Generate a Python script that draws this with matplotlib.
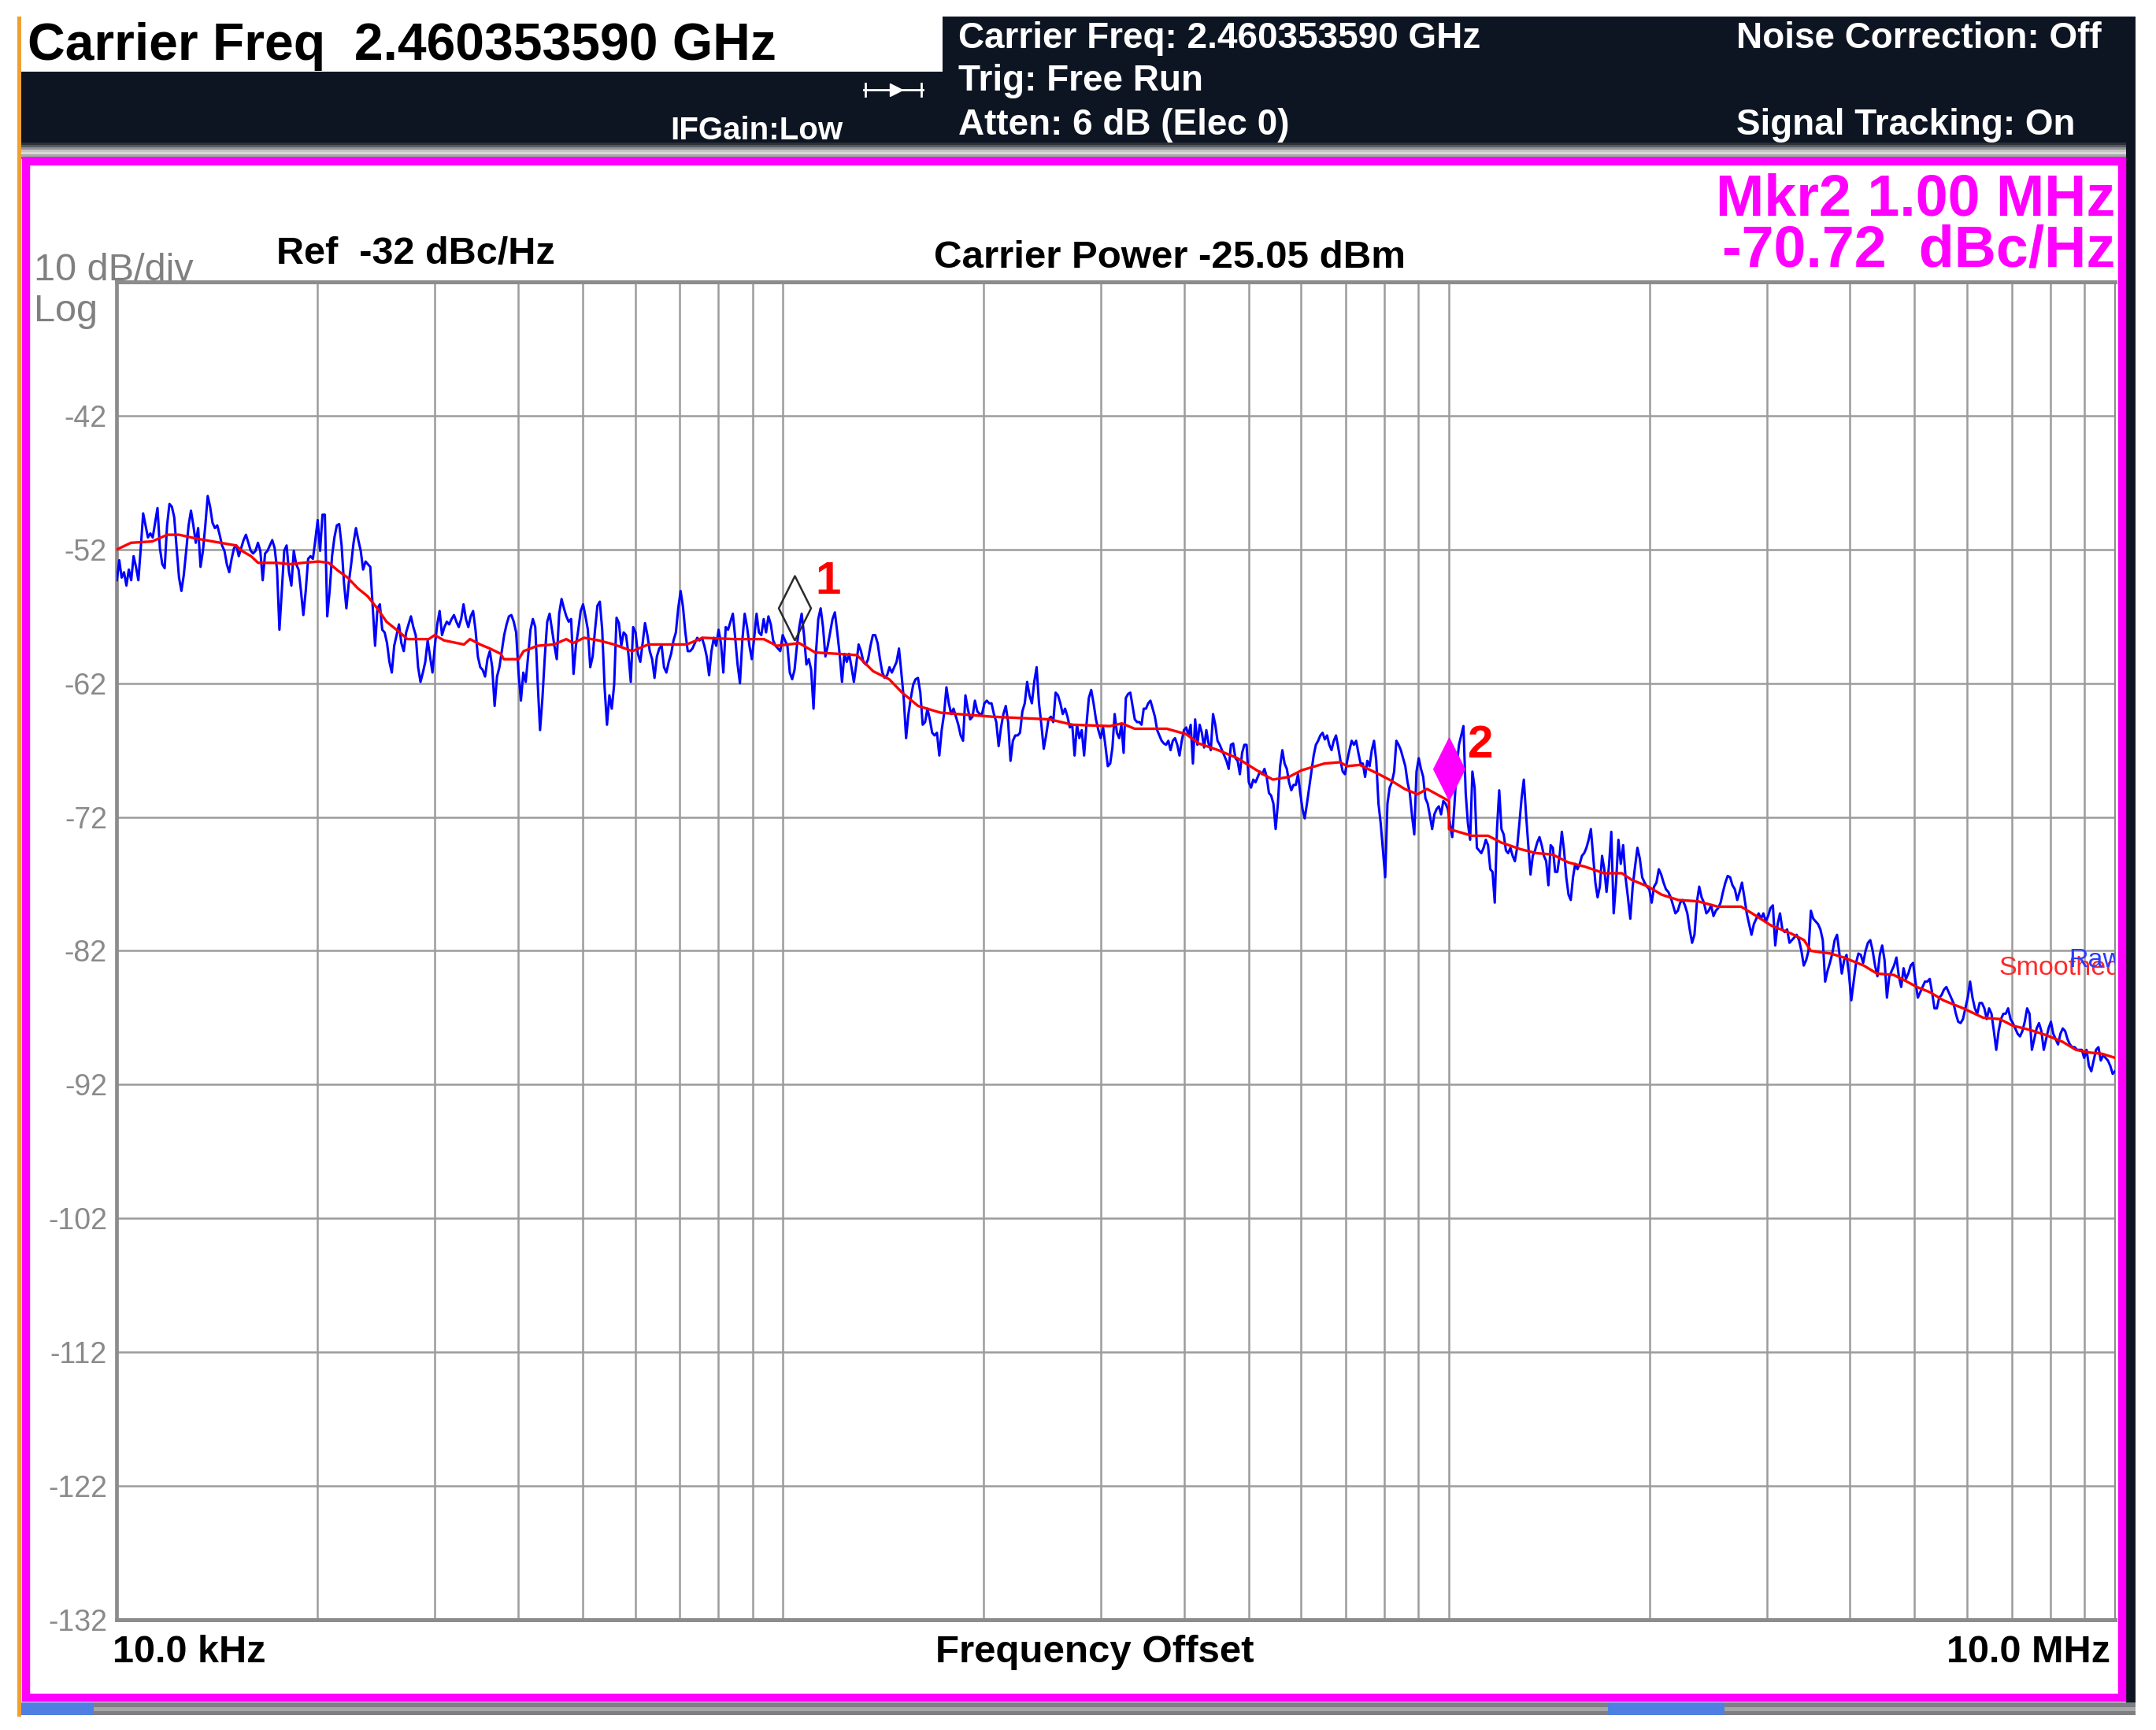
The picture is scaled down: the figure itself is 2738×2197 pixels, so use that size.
import matplotlib
matplotlib.use("Agg")
import matplotlib.pyplot as plt
import numpy as np
from matplotlib import font_manager
from matplotlib.patches import Rectangle
from matplotlib.lines import Line2D
from matplotlib.ticker import LogLocator, NullFormatter, FixedLocator

W, H = 2738, 2197

# ---- values ----
ref_db = -32
ytick_db = [-42, -52, -62, -72, -82, -92, -102, -112, -122, -132]
span_hz = [1e4, 1e7]

# raw trace in four pieces, each piece evenly spread in log frequency
raw_edges_khz = [10.0, 55.8, 310.0, 1724.0, 10000.0]
raw_1 = [
    -54.3, -52.8, -54.1, -53.7, -54.7, -53.5, -54.3, -52.5, -53.3, -54.3,
    -51.9, -49.3, -50.2, -51.1, -50.8, -51.1, -50.0, -48.9, -51.9, -53.1,
    -53.4, -50.2, -48.6, -48.8, -49.6, -51.9, -54.1, -55.1, -53.9, -52.1,
    -50.2, -49.1, -50.2, -51.5, -50.4, -53.3, -52.1, -50.2, -48.0, -48.8,
    -50.0, -50.4, -50.2, -50.9, -51.7, -52.1, -53.1, -53.7, -52.7, -51.9,
    -51.7, -52.5, -51.9, -51.3, -50.9, -51.5, -52.1, -52.3, -52.1, -51.5,
    -52.1, -54.3, -52.3, -52.1, -51.7, -51.3, -51.9, -53.5, -58.0, -55.1,
    -52.1, -51.7, -53.7, -54.7, -52.1, -53.1, -53.5, -55.1, -56.9, -55.1,
    -52.7, -52.5, -52.7, -51.3, -49.8, -52.1, -49.4, -49.4, -57.0, -55.1,
    -52.5, -51.1, -50.2, -50.1, -51.7, -54.5, -56.4, -54.5, -53.1, -51.5,
    -50.4, -51.3, -52.1, -53.5, -52.9, -53.1, -53.3, -56.2, -59.2, -56.4,
    -56.1, -58.0, -58.2, -59.0, -60.4, -61.2, -59.2, -58.4, -57.6, -59.0,
    -59.6, -58.2, -57.6, -57.0, -57.8, -58.4, -60.8, -61.9, -61.2, -60.4,
    -58.8, -60.0, -61.2, -59.2, -57.6, -56.6, -58.4, -57.8, -57.4, -57.6,
    -57.2, -56.9, -57.4, -57.8, -57.2, -56.1, -57.2, -57.8, -57.0, -56.6,
    -58.0, -60.0, -60.8, -61.0, -61.5, -60.2, -59.6, -60.8, -63.7, -61.5,
    -60.8, -59.6, -58.4, -57.6, -57.0, -56.9, -57.4, -58.2, -61.2, -63.3,
    -61.2, -61.9, -60.0, -58.0, -57.2, -57.8, -61.9, -65.5, -63.1, -60.0,
    -57.4, -56.8, -58.0, -59.2, -60.2, -56.8, -55.7, -56.4, -57.0, -57.4,
    -57.2, -61.3, -59.2, -58.0, -56.6, -56.1, -57.0, -58.0, -60.8, -60.0,
    -58.0, -56.2, -55.9, -58.0, -62.3, -65.1, -62.9, -63.9,
]
raw_2 = [
    -62.1, -57.1, -57.5, -59.2, -58.2, -58.4, -59.8, -61.9, -57.8, -58.2,
    -59.8, -60.4, -59.0, -57.5, -58.4, -59.6, -60.2, -61.6, -60.0, -59.4,
    -59.2, -60.8, -61.2, -60.4, -59.8, -58.8, -58.2, -56.4, -55.1, -56.3,
    -58.2, -59.6, -59.6, -59.4, -59.0, -58.6, -58.8, -58.6, -59.2, -60.0,
    -61.4, -59.6, -58.6, -59.2, -58.0, -59.0, -61.2, -57.8, -58.0, -57.4,
    -56.8, -58.6, -60.6, -62.0, -58.8, -56.8, -57.8, -59.2, -60.2, -58.6,
    -56.8, -58.2, -58.4, -57.2, -58.2, -57.0, -57.6, -58.8, -59.2, -59.4,
    -59.6, -58.4, -58.8, -59.2, -61.2, -61.7, -61.0, -59.2, -57.8, -56.8,
    -58.4, -60.6, -60.2, -61.0, -63.9, -59.8, -57.2, -56.4, -57.8, -60.0,
    -59.2, -58.2, -57.2, -56.7, -58.2, -59.8, -61.9, -59.8, -60.4, -59.8,
    -60.8, -61.9, -60.6, -59.1, -59.6, -60.4, -60.6, -60.2, -59.2, -58.4,
    -58.4, -59.0, -60.2, -61.2, -61.6, -61.4, -60.8, -61.2, -60.8, -60.4,
    -59.4, -61.2, -63.1, -66.1, -64.3, -63.1, -62.1, -61.7, -61.6, -62.7,
    -65.1, -64.9, -63.9, -64.7, -65.7, -65.9, -65.7, -67.4, -65.5, -64.3,
    -62.3, -63.5, -64.3, -63.9, -64.5, -65.1, -65.9, -66.3, -62.9, -63.9,
    -64.7, -64.5, -63.3, -64.1, -64.3, -64.3, -63.5, -63.3, -63.5, -63.5,
    -64.3, -64.9, -66.7, -65.3, -64.3, -63.7, -64.9, -67.8, -66.3, -65.9,
    -65.9, -65.7, -64.1, -63.5, -61.9, -62.9, -63.5, -61.9, -60.8, -63.5,
    -65.1, -66.9, -65.9, -64.7, -64.5, -64.9, -62.7, -62.9, -63.5, -64.3,
    -63.9, -64.5, -65.3, -65.1, -67.4, -65.1, -66.1, -65.5, -67.4, -65.1,
    -63.1, -62.5, -63.5, -64.7, -65.5, -66.1, -65.3, -66.7, -68.2,
]
raw_3 = [
    -68.0, -66.8, -64.3, -65.7, -66.1, -65.1, -67.2, -63.1, -62.8, -62.7,
    -63.7, -64.7, -64.9, -64.9, -65.1, -63.9, -63.9, -63.5, -63.3, -63.9,
    -64.5, -65.5, -65.9, -66.3, -66.5, -66.6, -66.3, -67.0, -66.3, -66.1,
    -66.6, -67.4, -66.3, -65.5, -65.3, -65.9, -65.1, -68.0, -64.7, -66.6,
    -65.1, -65.7, -66.8, -65.5, -66.5, -67.0, -64.3, -65.1, -66.3, -66.6,
    -67.0, -67.4, -67.8, -68.4, -66.6, -66.5, -67.6, -67.8, -68.8, -67.2,
    -66.6, -66.6, -69.4, -69.8, -69.2, -69.4, -69.0, -68.6, -68.8, -68.4,
    -69.0, -70.2, -70.4, -71.0, -72.9, -71.0, -68.2, -67.0, -68.0, -68.4,
    -69.4, -70.0, -69.6, -69.6, -68.8, -70.2, -71.4, -72.1, -71.0, -69.8,
    -68.6, -67.4, -66.6, -66.3, -65.9, -65.7, -66.2, -65.9, -66.6, -67.0,
    -66.3, -65.9, -66.8, -67.8, -68.6, -68.8, -67.8, -67.0, -66.3, -66.6,
    -66.3, -67.2, -68.0, -68.0, -69.0, -67.8, -68.2, -67.0, -66.3, -67.8,
    -71.0, -72.5, -74.5, -76.5, -71.0, -69.8, -69.4, -68.6, -66.3, -66.6,
    -67.0, -67.6, -68.2, -69.4, -70.2, -71.9, -73.3, -68.6, -67.6, -68.4,
    -69.0, -70.6, -71.0, -71.9, -72.9, -71.8, -71.4, -71.2, -71.8, -70.8,
    -71.0, -71.4, -72.5, -73.5, -71.0, -68.2, -66.6, -65.9, -65.2, -70.2,
    -72.5, -73.7, -68.6, -69.8, -74.3, -74.5, -74.7, -74.3, -73.7, -74.1,
    -75.9, -76.1, -78.4, -72.9, -70.0, -72.9, -73.3, -74.5, -74.7, -74.3,
    -74.9, -75.3, -74.3, -72.5, -70.6, -69.2, -71.8, -74.1, -76.3, -74.9,
    -74.5, -73.9, -73.5, -74.1, -74.9, -75.3, -77.1, -74.1, -74.3, -76.1,
    -76.1, -74.9, -73.1, -74.5, -76.5, -77.8, -78.2, -76.5, -75.5, -75.9,
    -75.5, -74.9, -74.7, -74.3, -73.7, -72.9, -74.9, -76.9, -78.0, -77.2,
    -74.9, -75.9,
]
raw_4 = [
    -77.6, -75.7, -73.1, -79.2, -76.9, -73.7, -75.5, -74.1, -76.5, -78.0,
    -79.6, -77.2, -75.7, -74.3, -75.1, -76.5, -76.9, -77.2, -77.4, -78.4,
    -77.2, -76.9, -75.9, -76.3, -76.9, -77.4, -77.6, -78.0, -78.6, -79.2,
    -79.0, -78.4, -78.2, -78.6, -79.2, -80.4, -81.4, -80.8, -78.4, -77.2,
    -78.0, -78.4, -79.2, -79.0, -78.6, -79.4, -79.0, -78.8, -78.4, -77.6,
    -76.9, -76.4, -76.5, -77.1, -77.4, -78.2, -77.6, -76.9, -78.0, -79.2,
    -80.0, -80.8, -80.0, -79.6, -79.2, -79.6, -79.2, -79.8, -79.4, -78.8,
    -78.6, -81.6, -80.0, -79.2, -80.4, -80.6, -80.4, -81.4, -81.2, -81.0,
    -80.8, -81.2, -82.0, -83.1, -82.7, -82.0, -79.0, -79.6, -79.8, -80.0,
    -80.4, -81.2, -84.3, -83.5, -82.9, -82.2, -81.2, -80.8, -82.2, -83.7,
    -82.7, -82.3, -83.7, -85.7, -84.3, -82.9, -82.2, -82.3, -82.9, -82.0,
    -81.4, -81.2, -82.0, -83.1, -83.9, -82.3, -81.6, -82.7, -85.5, -83.9,
    -83.5, -83.1, -82.5, -83.9, -84.7, -83.3, -84.1, -83.7, -83.1, -82.9,
    -84.3, -85.5, -85.1, -84.7, -84.3, -84.3, -84.1, -85.1, -86.3, -86.3,
    -85.5, -85.3, -84.9, -84.7, -85.1, -85.5, -85.9, -86.7, -87.3, -87.4,
    -87.1, -86.3, -85.5, -84.3, -85.5, -86.3, -86.7, -85.9, -85.9, -86.3,
    -87.1, -86.3, -86.7, -88.0, -89.4, -88.0, -87.1, -86.7, -86.7, -86.3,
    -87.1, -87.4, -87.8, -88.2, -88.4, -88.0, -87.3, -86.3, -86.7, -89.4,
    -88.6, -87.8, -87.4, -88.0, -89.4, -88.6, -87.8, -87.3, -88.2, -88.6,
    -89.0, -88.2, -87.8, -88.0, -88.6, -89.0, -89.2, -89.2, -89.4, -89.4,
    -89.4, -90.0, -89.4, -90.6, -91.0, -90.2, -89.4, -89.2, -90.2, -89.8,
    -90.0, -90.2, -90.6, -91.2, -91.0,
]

smooth_khz = [
    10.0, 10.5, 11.3, 11.9, 12.4, 13.2, 14.3, 15.1, 15.4, 15.9,
    16.3, 17.4, 18.2, 19.0, 20.1, 20.8, 21.5, 22.2, 23.0, 23.8,
    24.6, 25.4, 26.6, 27.3, 29.4, 30.0, 31.0, 33.2, 33.9, 35.1,
    36.3, 37.7, 38.1, 40.1, 40.8, 42.8, 45.3, 47.3, 48.4, 50.3,
    52.9, 55.8, 59.4, 62.8, 71.7, 75.8, 84.7, 93.6, 97.9, 105.8,
    111.8, 120.9, 129.2, 136.6, 144.4, 151.0, 159.6, 172.5, 206.1, 251.7,
    272.0, 310.0, 322.7, 337.3, 377.0, 402.9, 421.2, 450.2, 481.3, 503.0,
    526.0, 543.9, 575.0, 601.2, 649.9, 686.9, 702.4, 734.3, 784.9, 820.4,
    857.8, 896.8, 927.1, 958.7, 1000.0, 1000.0, 1083, 1145, 1197, 1280,
    1353, 1430, 1512, 1598, 1709, 1818, 1881, 1992, 2085, 2209,
    2366, 2534, 2746, 2873, 3044, 3261, 3413, 3493, 3740, 3915,
    4195, 4391, 4651, 4870, 5040, 5277, 5524, 5918, 6339, 6711,
    7026, 7439, 7878, 8342, 8735, 9145, 9572, 10000,
]
smooth_db = [
    -52.0, -51.5, -51.4, -50.9, -50.9, -51.2, -51.5, -51.7, -52.1, -52.5,
    -53.0, -53.0, -53.1, -53.0, -52.9, -53.0, -53.6, -54.1, -54.9, -55.5,
    -56.4, -57.4, -58.2, -58.7, -58.7, -58.4, -58.8, -59.1, -58.7, -59.1,
    -59.4, -59.8, -60.2, -60.2, -59.6, -59.2, -59.1, -58.7, -59.0, -58.6,
    -58.8, -59.1, -59.6, -59.1, -59.1, -58.6, -58.7, -58.7, -59.2, -59.0,
    -59.7, -59.8, -59.9, -61.1, -61.7, -62.7, -63.7, -64.2, -64.5, -64.7,
    -65.1, -65.2, -65.0, -65.4, -65.4, -65.8, -66.5, -67.0, -67.6, -68.2,
    -68.8, -69.2, -69.0, -68.5, -68.0, -67.9, -68.2, -68.1, -68.8, -69.3,
    -69.9, -70.3, -69.9, -70.3, -70.8, -72.9, -73.4, -73.4, -73.9, -74.4,
    -74.7, -74.8, -75.4, -75.7, -76.2, -76.2, -76.7, -77.2, -77.8, -78.2,
    -78.3, -78.7, -78.7, -79.3, -80.1, -80.7, -81.2, -82.0, -82.2, -82.5,
    -83.1, -83.7, -83.8, -84.3, -84.7, -85.1, -85.7, -86.3, -87.0, -87.1,
    -87.6, -87.9, -88.3, -88.8, -89.4, -89.6, -89.7, -90.0,
]

mkr_khz = [104.0, 1000.0]
mkr_db = [-58.8, -70.72]

# ---- fonts ----
names = {f.name for f in font_manager.fontManager.ttflist}
SANS = 'Liberation Sans' if 'Liberation Sans' in names else 'DejaVu Sans'
NARROW = 'Liberation Sans Narrow' if 'Liberation Sans Narrow' in names else SANS
plt.rcParams['font.family'] = [SANS, 'DejaVu Sans']

fig = plt.figure(figsize=(W / 100, H / 100), dpi=100)
fig.patch.set_facecolor('white')


def box(x0, y0, x1, y1, color, z=-5):
    fig.add_artist(Rectangle((x0 / W, 1 - y1 / H), (x1 - x0) / W, (y1 - y0) / H,
                             transform=fig.transFigure, facecolor=color,
                             edgecolor='none', zorder=z))


def label(px, py, s, **kw):
    fig.text(px / W, 1 - py / H, s, va='baseline', **kw)


# screen chrome: header bar, gradient strip, magenta frame, bottom strip
NAVY = '#0e1522'
box(1197, 21, 2712, 91, NAVY)
box(27, 91, 2712, 181, NAVY)
for i, c in enumerate(['#2a2f38', '#555a60', '#8e9094', '#c4c4c4', '#d8d8d8', '#a8a8a8', '#7a7a7a']):
    box(27, 181 + i * 3, 2712, 184 + i * 3, c)
box(2700, 181, 2712, 2178, NAVY)
box(27, 2162, 2712, 2178, '#7d7f82')
box(27, 2168, 2712, 2173, '#a5a7aa')
box(27, 2162, 119, 2178, '#4f7fe0')
box(2042, 2162, 2190, 2178, '#4f7fe0')
box(22, 21, 27, 2180, '#f0a030')
fig.add_artist(Rectangle((33 / W, 1 - 2156 / H), (2695 - 33) / W, (2156 - 205) / H,
                         transform=fig.transFigure, facecolor='white',
                         edgecolor='#ff00ff', lw=7.5, zorder=-4))

# header texts
label(35, 76, 'Carrier Freq  2.460353590 GHz', fontsize=47.5, fontweight='bold', color='black')
hdr = dict(fontsize=33, fontweight='bold', color='white')
label(1217, 61, 'Carrier Freq: 2.460353590 GHz', **hdr)
label(1217, 115, 'Trig: Free Run', **hdr)
label(1217, 171, 'Atten: 6 dB (Elec 0)', **hdr)
label(2205, 61, 'Noise Correction: Off', **hdr)
label(2205, 171, 'Signal Tracking: On', **hdr)
label(851, 177, 'IFGain:Low', fontsize=29, fontweight='bold', color='white')
fig.add_artist(Line2D([1097 / W, 1172 / W], [1 - 114 / H, 1 - 114 / H], color='white',
                      lw=2, transform=fig.transFigure))
fig.add_artist(Line2D([1138 / W], [1 - 114 / H], marker='>', ms=11, color='white',
                      transform=fig.transFigure))
for px in (1099, 1170):
    fig.add_artist(Line2D([px / W, px / W], [1 - 106 / H, 1 - 122 / H], color='white',
                          lw=2, transform=fig.transFigure))

# annotations around the graticule
label(2686, 274, 'Mkr2 1.00 MHz', fontsize=53, fontweight='bold', color='#ff00ff', ha='right')
label(2686, 339, '-70.72  dBc/Hz', fontsize=53, fontweight='bold', color='#ff00ff', ha='right')
label(351, 335, 'Ref  %d dBc/Hz' % ref_db, fontsize=35, fontweight='bold', color='black')
label(1186, 340, 'Carrier Power -25.05 dBm', fontsize=35.5, fontweight='bold', color='black')
label(43, 356, '10 dB/div', fontsize=35, color='#808080')
label(43, 408, 'Log', fontsize=35, color='#808080')
label(143, 2111, '10.0 kHz', fontsize=35, fontweight='bold', color='black')
label(1390, 2111, 'Frequency Offset', fontsize=35.5, fontweight='bold', color='black', ha='center')
label(2680, 2111, '10.0 MHz', fontsize=35, fontweight='bold', color='black', ha='right')

# ---- graticule ----
ax = fig.add_axes([148.4 / W, 1 - 2057 / H, (2686 - 148.4) / W, (2057 - 358) / H])
ax.set_facecolor('white')
ax.set_xscale('log')
ax.set_xlim(*span_hz)
ax.set_ylim(ytick_db[-1], ref_db)
ax.xaxis.set_major_locator(FixedLocator([1e4, 1e5, 1e6, 1e7]))
ax.xaxis.set_minor_locator(LogLocator(base=10, subs=np.arange(2, 10)))
ax.xaxis.set_major_formatter(NullFormatter())
ax.xaxis.set_minor_formatter(NullFormatter())
ax.set_yticks(ytick_db)
ax.set_yticklabels([str(v) for v in ytick_db], fontfamily=[NARROW, 'DejaVu Sans'],
                   fontsize=27, color='#8a8a8a')
ax.tick_params(axis='both', which='both', length=0)
ax.tick_params(axis='y', pad=9)
ax.grid(True, which='both', color='#9c9c9c', lw=1.8)
ax.set_axisbelow(True)
for side, lw in (('left', 3.4), ('top', 3.6), ('bottom', 3.6), ('right', 1.6)):
    ax.spines[side].set_color('#8c8c8c')
    ax.spines[side].set_linewidth(lw)

raw_f, raw_y = [], []
for i, seg in enumerate([raw_1, raw_2, raw_3, raw_4]):
    lo = np.log10(raw_edges_khz[i] * 1e3)
    hi = np.log10(raw_edges_khz[i + 1] * 1e3)
    raw_f.append(np.logspace(lo, hi, len(seg), endpoint=(i == 3)))
    raw_y.append(np.array(seg))
raw_f = np.concatenate(raw_f)
raw_y = np.concatenate(raw_y)

ax.plot(raw_f, raw_y, color='#0000ff', lw=2.2, zorder=3)
ax.plot(np.array(smooth_khz) * 1e3, smooth_db, color='#ff0000', lw=2.4, zorder=4)

# markers: diamond whose lower tip sits on the marker value
tip_diamond = [(0, 0), (-0.5, 1), (0, 2), (0.5, 1), (0, 0)]
ax.plot(mkr_khz[0] * 1e3, mkr_db[0], marker=tip_diamond, ms=118, mfc='none',
        mec='#2b2b2b', mew=1.8, zorder=6, clip_on=False)
ax.plot(mkr_khz[1] * 1e3, mkr_db[1], marker=tip_diamond, ms=114, mfc='#ff00ff',
        mec='#ff00ff', mew=1, zorder=6, clip_on=False)
for i, (fk, db) in enumerate(zip(mkr_khz, mkr_db)):
    off = [(19, 43), (17, 39)][i]
    ax.annotate(str(i + 1), (fk * 1e3, db), xytext=off, textcoords='offset points',
                ha='left', va='baseline', fontsize=42, fontweight='bold', color='#ff0000',
                zorder=7)

# trace legend, partly cut off by the graticule edge as on the instrument
ax.text(0.9418, 0.4821, 'Smoothed', transform=ax.transAxes, fontsize=24.5,
        color='#ff2a2a', va='baseline', ha='left', clip_on=True, zorder=5)
ax.text(0.9769, 0.4879, 'Raw', transform=ax.transAxes, fontsize=24.5,
        color='#2a3cff', va='baseline', ha='left', clip_on=True, zorder=5)

fig.savefig('out.png', dpi=100, facecolor='white')
